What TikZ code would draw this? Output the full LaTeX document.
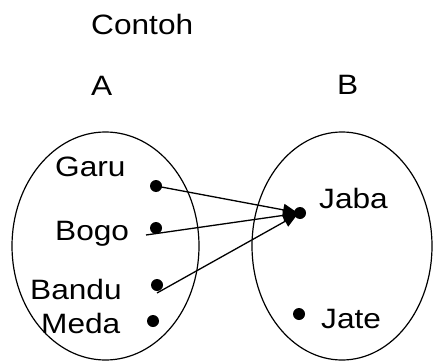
\documentclass[tikz,border=0pt]{standalone}
\usepackage{fontspec}
\setmainfont{Liberation Sans}[FakeStretch=1.13]
\usetikzlibrary{arrows.meta}
\begin{document}
\begin{tikzpicture}[x=1pt,y=1pt,
  lbl/.style={anchor=base west,inner sep=0pt,font=\fontsize{28}{32}\selectfont},
  dot/.style={circle,fill=black,inner sep=0pt,minimum size=12pt},
  setell/.style={draw=black,line width=1.2pt},
  arr/.style={line width=1.3pt,-{Triangle[length=14pt,width=12pt]},shorten >=3pt}]
\useasboundingbox (0,0) rectangle (433,362);
\draw[setell] (105.5,116) ellipse [x radius=93.5,y radius=114];
\draw[setell] (342,116) ellipse [x radius=90,y radius=114];
\node[lbl] (contoh) at (91,327) {Contoh};
\node[lbl] (A) at (91,266) {A};
\node[lbl] (B) at (337,267) {B};
\node[lbl] (garu) at (55,186) {Garu};
\node[lbl] (bogo) at (55,122) {Bogo};
\node[lbl] (bandu) at (30,63) {Bandu};
\node[lbl] (meda) at (41,29) {Meda};
\node[lbl] (jabal) at (319,154) {Jaba};
\node[lbl] (jatel) at (321,34) {Jate};
\node[dot] (g) at (156,176) {};
\node[dot] (b) at (156,134) {};
\node[dot] (d) at (157,77) {};
\node[dot] (m) at (153,41) {};
\node[dot] (j) at (300,149) {};
\node[dot] (t) at (299,48) {};
\coordinate (bs) at (146,127);
\coordinate (ds) at (157,69);
\draw[arr] (g.center) -- (j.center);
\draw[arr] (bs) -- (j.center);
\draw[arr] (ds) -- (j.center);
\end{tikzpicture}
\end{document}
